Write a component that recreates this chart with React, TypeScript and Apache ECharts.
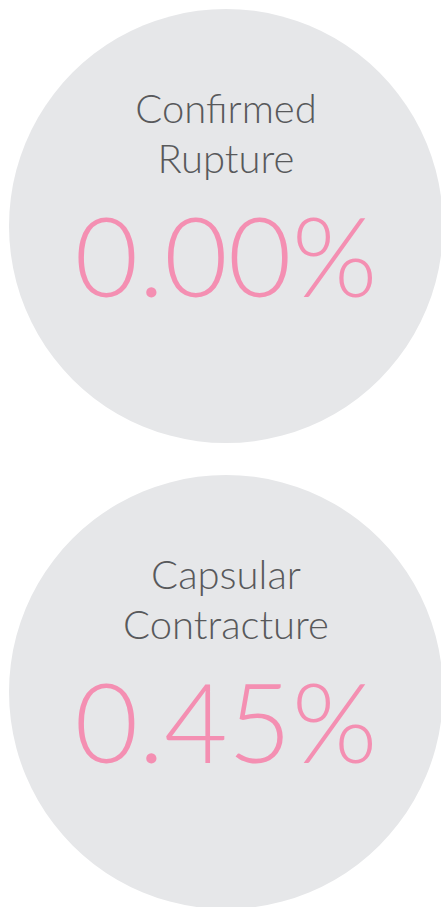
import React, { useEffect, useRef } from "react";
import * as echarts from "echarts";

const titles: string[][] = [
  ["Confirmed", "Rupture"],
  ["Capsular", "Contracture"],
];
const rates: number[] = [0.0, 0.45];

const W = 441;
const H = 907;
const CX = 226;
const R = 217;
const CENTERS_Y = [226, 692];
const BG = "#e6e7e9";
const GRAY = "#58595b";
const PINK = "#f48fb2";
const FONT = "Lato";

export default function App() {
  const ref = useRef<HTMLDivElement>(null);
  useEffect(() => {
    document.body.style.margin = "0";
    if (!ref.current) return;
    const chart = echarts.init(ref.current, null, { renderer: "svg", width: W, height: H });
    const elements: any[] = [];
    rates.forEach((v, i) => {
      const cy = CENTERS_Y[i];
      elements.push({
        type: "circle",
        shape: { cx: CX, cy, r: R },
        style: { fill: BG },
        silent: true,
      });
      titles[i].forEach((line, j) => {
        elements.push({
          type: "text",
          x: CX,
          y: cy - 118 + j * 50,
          style: {
            text: line,
            fill: GRAY,
            font: `300 40px ${FONT}`,
            align: "center",
            verticalAlign: "middle",
          },
        });
      });
      elements.push({
        type: "text",
        x: CX,
        y: cy + 28,
        style: {
          text: v.toFixed(2) + "%",
          fill: PINK,
          font: `300 110px ${FONT}`,
          align: "center",
          verticalAlign: "middle",
        },
      });
    });
    chart.setOption({
      animation: false,
      backgroundColor: "#ffffff",
      graphic: { elements },
    });
    return () => chart.dispose();
  }, []);
  return <div ref={ref} style={{ position: "absolute", left: 0, top: 0, width: W, height: H }} />;
}
